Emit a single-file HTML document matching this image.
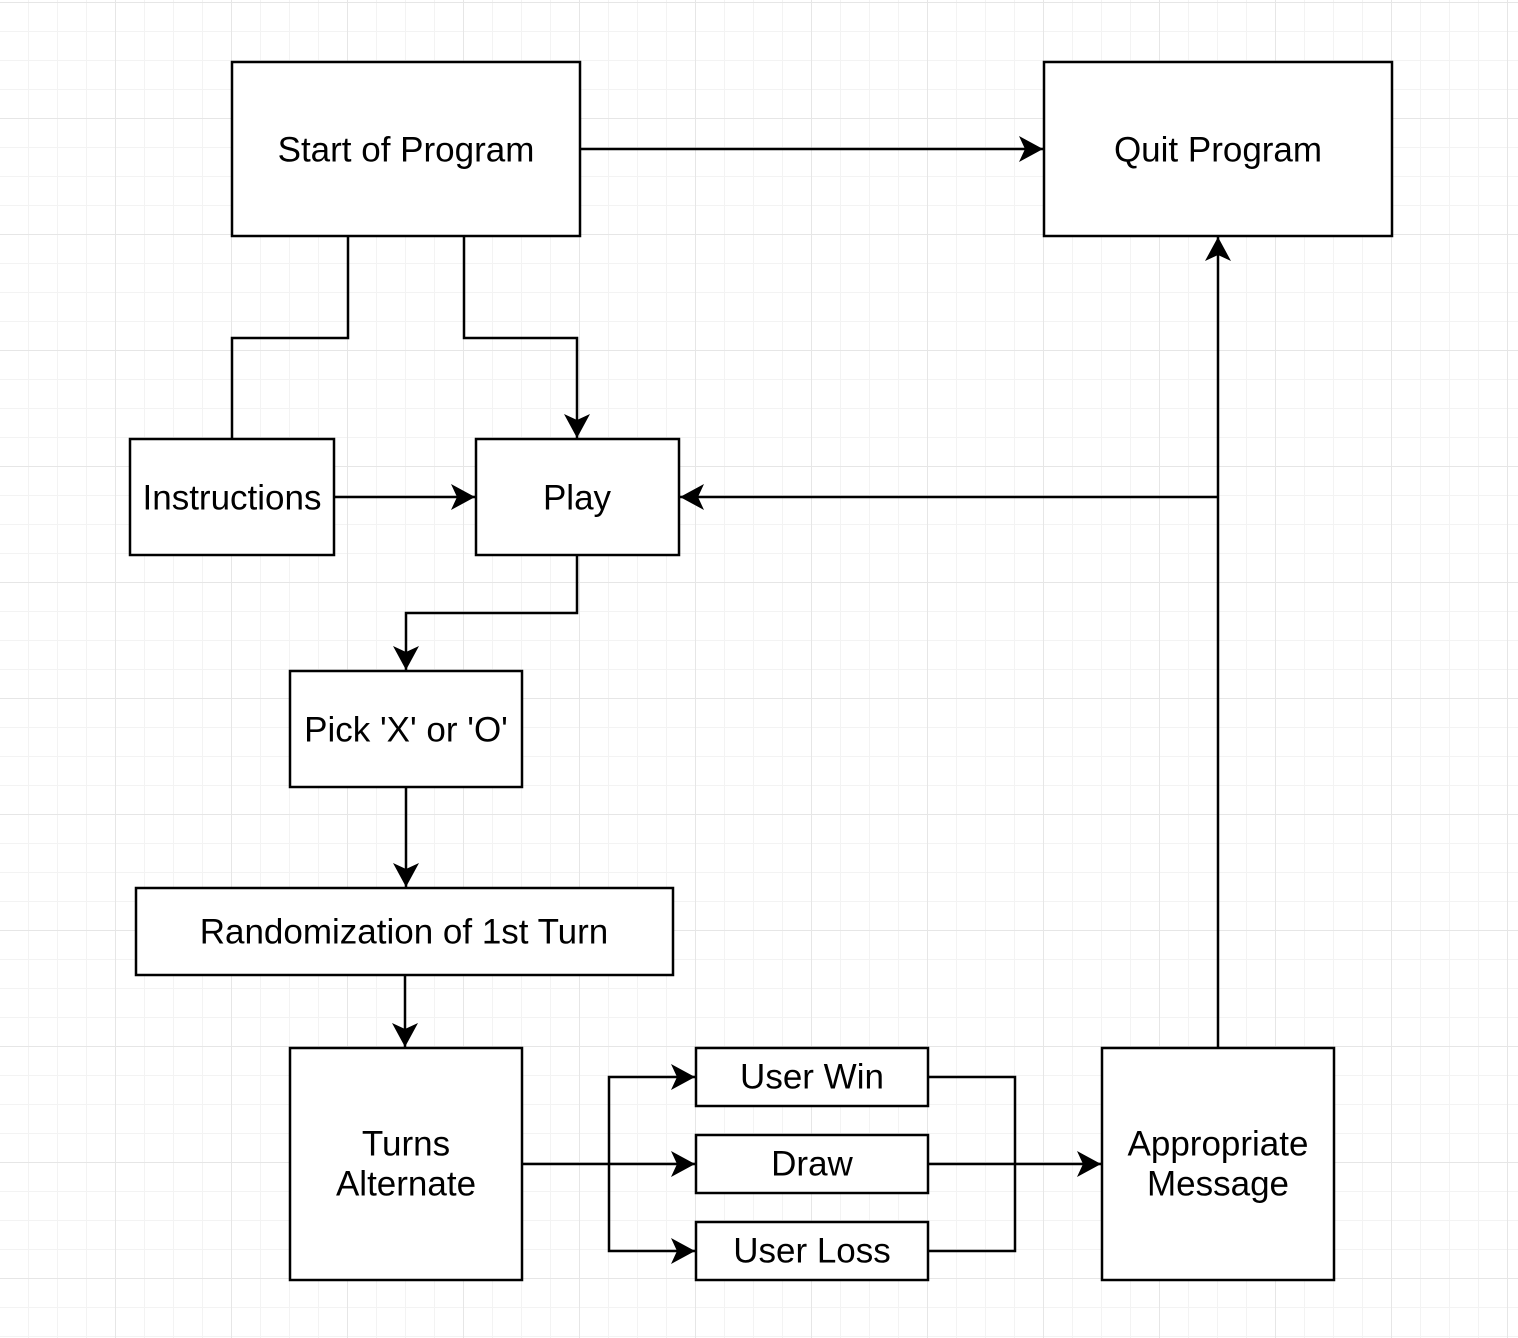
<!DOCTYPE html>
<html><head><meta charset="utf-8"><style>
html,body{margin:0;padding:0;background:#fff}
svg{display:block}
text{font-family:"Liberation Sans",Arial,sans-serif;font-size:35px;fill:#000;text-anchor:middle;dominant-baseline:central}
</style></head><body>
<svg width="1518" height="1338" viewBox="0 0 1518 1338" xmlns="http://www.w3.org/2000/svg">
<defs>
<pattern id="minor" width="29" height="29" patternUnits="userSpaceOnUse" x="-1" y="2">
<path d="M0 0H29M0 0V29" stroke="#f3f3f3" stroke-width="2" fill="none"/>
</pattern>
<pattern id="major" width="116" height="116" patternUnits="userSpaceOnUse" x="-1" y="2">
<path d="M0 0H116M0 0V116" stroke="#e6e6e6" stroke-width="2" fill="none"/>
</pattern>
<marker id="a" markerWidth="26" markerHeight="28" refX="24" refY="13" orient="auto" markerUnits="userSpaceOnUse">
<path d="M0 0L24 13L0 26L6 13Z" fill="#000"/>
</marker>
</defs>
<rect width="1518" height="1338" fill="url(#minor)"/>
<rect width="1518" height="1338" fill="url(#major)"/>
<g fill="none" stroke="#000" stroke-width="2.5">
<path d="M580 149H1043" marker-end="url(#a)"/>
<path d="M348 236V338H232V439"/>
<path d="M464 236V338H577V438" marker-end="url(#a)"/>
<path d="M334 497H475" marker-end="url(#a)"/>
<path d="M1218 1048V237" marker-end="url(#a)"/>
<path d="M1218 497H680" marker-end="url(#a)"/>
<path d="M577 555V613H406V670" marker-end="url(#a)"/>
<path d="M406 787V887" marker-end="url(#a)"/>
<path d="M405 975V1047" marker-end="url(#a)"/>
<path d="M522 1164H695" marker-end="url(#a)"/>
<path d="M609 1164V1077H695" marker-end="url(#a)"/>
<path d="M609 1164V1251H695" marker-end="url(#a)"/>
<path d="M928 1077H1015V1251H928"/>
<path d="M928 1164H1101" marker-end="url(#a)"/>
</g>
<g fill="#fff" stroke="#000" stroke-width="2.5">
<rect x="232" y="62" width="348" height="174"/>
<rect x="1044" y="62" width="348" height="174"/>
<rect x="130" y="439" width="204" height="116"/>
<rect x="476" y="439" width="203" height="116"/>
<rect x="290" y="671" width="232" height="116"/>
<rect x="136" y="888" width="537" height="87"/>
<rect x="290" y="1048" width="232" height="232"/>
<rect x="696" y="1048" width="232" height="58"/>
<rect x="696" y="1135" width="232" height="58"/>
<rect x="696" y="1222" width="232" height="58"/>
<rect x="1102" y="1048" width="232" height="232"/>
</g>
<text x="406" y="150">Start of Program</text>
<text x="1218" y="150">Quit Program</text>
<text x="232" y="498">Instructions</text>
<text x="577" y="498">Play</text>
<text x="406" y="730">Pick 'X' or 'O'</text>
<text x="404" y="932">Randomization of 1st Turn</text>
<text x="406" y="1144">Turns</text>
<text x="406" y="1184">Alternate</text>
<text x="812" y="1077">User Win</text>
<text x="812" y="1164">Draw</text>
<text x="812" y="1251">User Loss</text>
<text x="1218" y="1144">Appropriate</text>
<text x="1218" y="1184">Message</text>
</svg>
</body></html>
